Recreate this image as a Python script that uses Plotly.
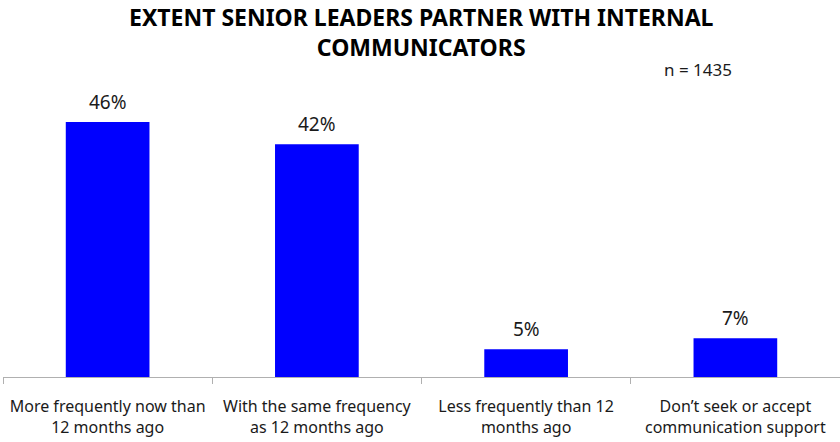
import plotly.graph_objects as go

# Survey responses: how often senior leaders partner with internal communicators
categories = [
    "More frequently now than<br>12 months ago",
    "With the same frequency<br>as 12 months ago",
    "Less frequently than 12<br>months ago",
    "Don\u2019t seek or accept<br>communication support",
]
shares = [46, 42, 5, 7]
value_labels = [f"{v}%" for v in shares]

FONT = "Noto Sans, Open Sans, sans-serif"
W, H = 840, 442
M_T, M_B = 102, 65
PLOT_H = H - M_T - M_B


def paper_y(px):
    """Convert a pixel row (from the top of the page) to paper y."""
    return (H - M_B - px) / PLOT_H


fig = go.Figure(
    go.Bar(
        x=categories,
        y=shares,
        marker=dict(color="#0000FF", line=dict(width=0)),
        width=0.4,
        hoverinfo="x+y",
    )
)

annotations = [
    dict(
        x=cat,
        y=val,
        xref="x",
        yref="y",
        text=lab,
        showarrow=False,
        yanchor="bottom",
        yshift=5,
        font=dict(family=FONT, size=19, color="#1a1a1a"),
    )
    for cat, val, lab in zip(categories, shares, value_labels)
]
annotations.append(
    dict(
        text="EXTENT SENIOR LEADERS PARTNER WITH INTERNAL<br>COMMUNICATORS",
        xref="paper",
        yref="paper",
        x=0.5,
        y=paper_y(-1),
        xanchor="center",
        yanchor="top",
        showarrow=False,
        font=dict(family=FONT, size=23, color="black", weight="bold"),
    )
)
annotations.append(
    dict(
        text="n = 1435",
        xref="paper",
        yref="paper",
        x=(734 - 3) / (W - 3),
        y=paper_y(70),
        xanchor="right",
        yanchor="middle",
        showarrow=False,
        font=dict(family=FONT, size=17, color="#1a1a1a"),
    )
)

fig.update_layout(
    width=W,
    height=H,
    margin=dict(l=3, r=0, t=M_T, b=M_B),
    paper_bgcolor="white",
    plot_bgcolor="white",
    showlegend=False,
    annotations=annotations,
)

fig.update_xaxes(
    showline=True,
    linecolor="#b0b0b0",
    linewidth=1,
    ticks="outside",
    tickson="boundaries",
    ticklen=6,
    tickcolor="#b0b0b0",
    ticklabelstandoff=15,
    tickfont=dict(family=FONT, size=16, color="#1a1a1a"),
    showgrid=False,
)
fig.update_yaxes(
    range=[0, 49.6],
    visible=False,
    showgrid=False,
)

fig.write_html("out.html")
